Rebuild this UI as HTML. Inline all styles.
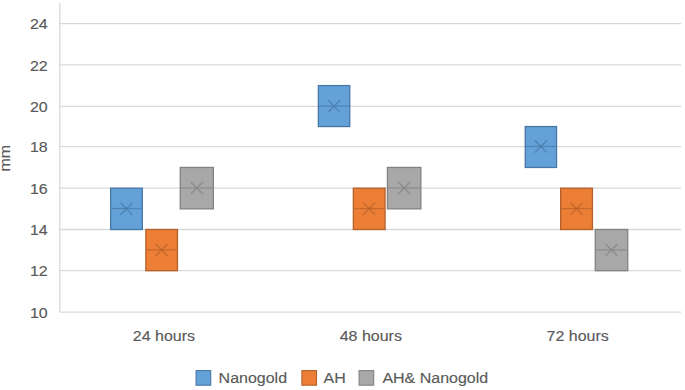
<!DOCTYPE html>
<html><head><meta charset="utf-8"><style>
html,body{margin:0;padding:0;background:#fff;}
body{width:685px;height:390px;overflow:hidden;}
svg{display:block;}
text{font-family:"Liberation Sans",sans-serif;font-size:16px;fill:#595959;stroke:#595959;stroke-width:0.15px;}
</style></head><body>
<svg width="685" height="390" viewBox="0 0 685 390">
<rect width="685" height="390" fill="#fff"/>
<g stroke="#D9D9D9" stroke-width="1.3"><line x1="60" y1="312.10" x2="681" y2="312.10"/><line x1="60" y1="270.70" x2="681" y2="270.70"/><line x1="60" y1="229.50" x2="681" y2="229.50"/><line x1="60" y1="188.20" x2="681" y2="188.20"/><line x1="60" y1="146.70" x2="681" y2="146.70"/><line x1="60" y1="106.40" x2="681" y2="106.40"/><line x1="60" y1="64.80" x2="681" y2="64.80"/><line x1="60" y1="23.70" x2="681" y2="23.70"/><line x1="59.8" y1="3.3" x2="59.8" y2="312.10"/></g>
<text transform="translate(47.70,317.85) scale(1,0.93)" text-anchor="end">10</text><text transform="translate(47.70,276.45) scale(1,0.93)" text-anchor="end">12</text><text transform="translate(47.70,235.25) scale(1,0.93)" text-anchor="end">14</text><text transform="translate(47.70,193.95) scale(1,0.93)" text-anchor="end">16</text><text transform="translate(47.70,152.45) scale(1,0.93)" text-anchor="end">18</text><text transform="translate(47.70,112.15) scale(1,0.93)" text-anchor="end">20</text><text transform="translate(47.70,70.55) scale(1,0.93)" text-anchor="end">22</text><text transform="translate(47.70,29.45) scale(1,0.93)" text-anchor="end">24</text>
<text transform="translate(10.4,158.2) rotate(-90) scale(1,0.93)" text-anchor="middle">mm</text>
<rect x="110.65" y="188.20" width="31.70" height="41.30" fill="#64A1D8" stroke="#4677A6" stroke-width="1.3"/><line x1="111.30" y1="208.55" x2="141.70" y2="208.55" stroke="#4677A6" stroke-width="1.3" stroke-opacity="0.7"/><path d="M120.50 202.65L132.50 214.65M132.50 202.65L120.50 214.65" stroke="#4677A6" stroke-width="1.4" stroke-opacity="0.7" fill="none"/><rect x="145.85" y="229.50" width="31.60" height="41.20" fill="#EC7F35" stroke="#B5602A" stroke-width="1.3"/><line x1="146.50" y1="249.80" x2="176.80" y2="249.80" stroke="#B5602A" stroke-width="1.3" stroke-opacity="0.7"/><path d="M155.65 243.90L167.65 255.90M167.65 243.90L155.65 255.90" stroke="#B5602A" stroke-width="1.4" stroke-opacity="0.7" fill="none"/><rect x="180.25" y="167.45" width="33.10" height="41.40" fill="#A8A8A8" stroke="#828282" stroke-width="1.3"/><line x1="180.90" y1="187.90" x2="212.70" y2="187.90" stroke="#828282" stroke-width="1.3" stroke-opacity="0.7"/><path d="M190.80 182.00L202.80 194.00M202.80 182.00L190.80 194.00" stroke="#828282" stroke-width="1.4" stroke-opacity="0.7" fill="none"/><rect x="318.35" y="85.60" width="31.40" height="40.95" fill="#64A1D8" stroke="#4677A6" stroke-width="1.3"/><line x1="319.00" y1="106.10" x2="349.10" y2="106.10" stroke="#4677A6" stroke-width="1.3" stroke-opacity="0.7"/><path d="M328.05 100.20L340.05 112.20M340.05 100.20L328.05 112.20" stroke="#4677A6" stroke-width="1.4" stroke-opacity="0.7" fill="none"/><rect x="353.35" y="188.20" width="31.70" height="41.30" fill="#EC7F35" stroke="#B5602A" stroke-width="1.3"/><line x1="354.00" y1="208.55" x2="384.40" y2="208.55" stroke="#B5602A" stroke-width="1.3" stroke-opacity="0.7"/><path d="M363.20 202.65L375.20 214.65M375.20 202.65L363.20 214.65" stroke="#B5602A" stroke-width="1.4" stroke-opacity="0.7" fill="none"/><rect x="387.45" y="167.45" width="33.40" height="41.40" fill="#A8A8A8" stroke="#828282" stroke-width="1.3"/><line x1="388.10" y1="187.90" x2="420.20" y2="187.90" stroke="#828282" stroke-width="1.3" stroke-opacity="0.7"/><path d="M398.15 182.00L410.15 194.00M410.15 182.00L398.15 194.00" stroke="#828282" stroke-width="1.4" stroke-opacity="0.7" fill="none"/><rect x="525.25" y="126.55" width="31.30" height="40.90" fill="#64A1D8" stroke="#4677A6" stroke-width="1.3"/><line x1="525.90" y1="146.40" x2="555.90" y2="146.40" stroke="#4677A6" stroke-width="1.3" stroke-opacity="0.7"/><path d="M534.90 140.50L546.90 152.50M546.90 140.50L534.90 152.50" stroke="#4677A6" stroke-width="1.4" stroke-opacity="0.7" fill="none"/><rect x="560.65" y="188.20" width="31.80" height="41.30" fill="#EC7F35" stroke="#B5602A" stroke-width="1.3"/><line x1="561.30" y1="208.55" x2="591.80" y2="208.55" stroke="#B5602A" stroke-width="1.3" stroke-opacity="0.7"/><path d="M570.55 202.65L582.55 214.65M582.55 202.65L570.55 214.65" stroke="#B5602A" stroke-width="1.4" stroke-opacity="0.7" fill="none"/><rect x="595.25" y="229.50" width="32.50" height="41.20" fill="#A8A8A8" stroke="#828282" stroke-width="1.3"/><line x1="595.90" y1="249.80" x2="627.10" y2="249.80" stroke="#828282" stroke-width="1.3" stroke-opacity="0.7"/><path d="M605.50 243.90L617.50 255.90M617.50 243.90L605.50 255.90" stroke="#828282" stroke-width="1.4" stroke-opacity="0.7" fill="none"/>
<text transform="translate(163.90,341.10) scale(1,0.93)" text-anchor="middle">24 hours</text><text transform="translate(370.80,341.10) scale(1,0.93)" text-anchor="middle">48 hours</text><text transform="translate(577.70,341.10) scale(1,0.93)" text-anchor="middle">72 hours</text>
<rect x="196.10" y="370.6" width="14.6" height="14.6" fill="#64A1D8" stroke="#4677A6" stroke-width="1.1"/><text transform="translate(218.60,383.10) scale(1,0.93)">Nanogold</text><rect x="301.90" y="370.6" width="14.6" height="14.6" fill="#EC7F35" stroke="#B5602A" stroke-width="1.1"/><text transform="translate(323.50,383.10) scale(1,0.93)">AH</text><rect x="359.10" y="370.6" width="14.6" height="14.6" fill="#A8A8A8" stroke="#828282" stroke-width="1.1"/><text transform="translate(382.40,383.10) scale(1,0.93)">AH&amp; Nanogold</text>
</svg>
</body></html>
